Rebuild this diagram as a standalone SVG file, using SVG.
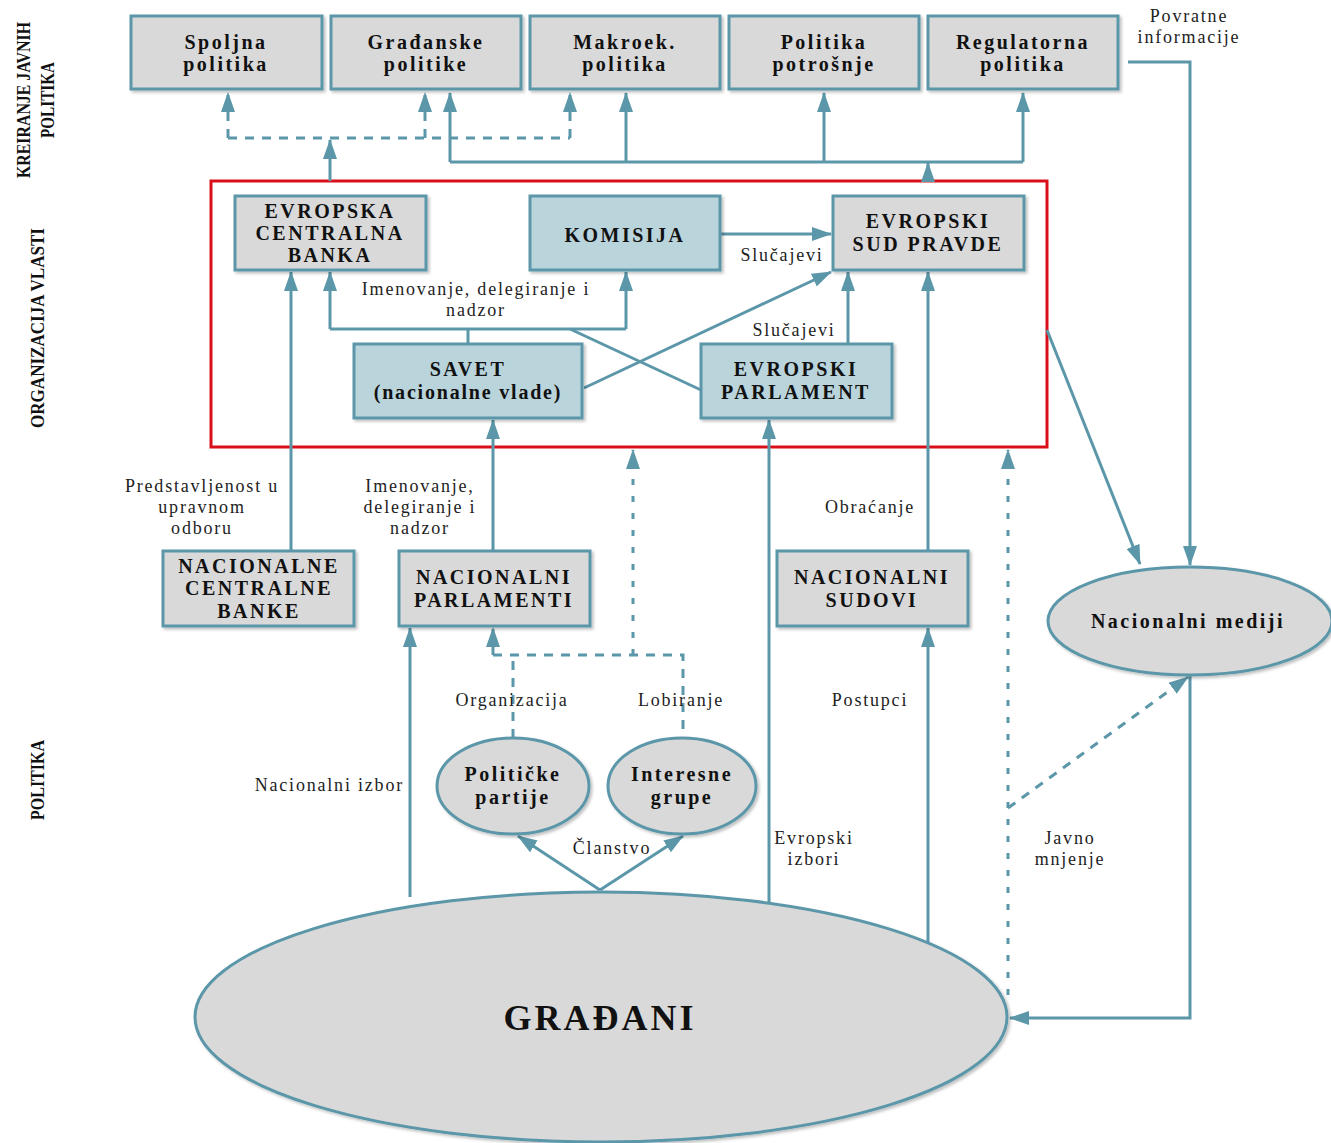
<svg xmlns="http://www.w3.org/2000/svg" width="1331" height="1143" viewBox="0 0 1331 1143">
<defs>
<marker id="ah" viewBox="0 0 20 14" refX="19" refY="7" markerWidth="20" markerHeight="14" markerUnits="userSpaceOnUse" orient="auto">
<path d="M0,0 L20,7 L0,14 z" fill="#5b97a9"/>
</marker>
<filter id="sh" x="-10%" y="-10%" width="125%" height="130%">
<feDropShadow dx="2" dy="2" stdDeviation="1.5" flood-color="#000" flood-opacity="0.25"/>
</filter>
</defs>
<style>
.box{fill:#d9d9d9;stroke:#5b97a9;stroke-width:3;filter:url(#sh)}
.blue{fill:#bad4dc}
.nt{font-family:"Liberation Serif","Times New Roman",serif;font-weight:bold;font-size:20px;letter-spacing:2.5px;text-anchor:middle;fill:#111}
.lb{font-family:"Liberation Serif","Times New Roman",serif;font-size:18px;letter-spacing:1.8px;text-anchor:middle;fill:#222}
.side{font-family:"Liberation Serif","Times New Roman",serif;font-weight:bold;font-size:18px;text-anchor:middle;fill:#111}
.c{fill:none;stroke:#5b97a9;stroke-width:3}
.a{marker-end:url(#ah)}
.d{stroke-dasharray:9 8}
.dt{stroke-dasharray:6 11}
</style>

<g id="side-labels">
<text class="side" transform="translate(30,100) rotate(-90)" textLength="156" lengthAdjust="spacingAndGlyphs">KREIRANJE JAVNIH</text>
<text class="side" transform="translate(54,100) rotate(-90)" textLength="76" lengthAdjust="spacingAndGlyphs">POLITIKA</text>
<text class="side" transform="translate(44,328) rotate(-90)" textLength="200" lengthAdjust="spacingAndGlyphs">ORGANIZACIJA VLASTI</text>
<text class="side" transform="translate(44,780) rotate(-90)" textLength="80" lengthAdjust="spacingAndGlyphs">POLITIKA</text>
</g>

<rect id="eu-frame" x="211" y="181" width="836" height="266" fill="none" stroke="#d9101a" stroke-width="3"/>

<g id="connectors">
<path class="c d" d="M228,138 H570"/>
<path class="c d a" d="M228,138 V93"/>
<path class="c d a" d="M425,138 V93"/>
<path class="c d a" d="M570,138 V93"/>
<path class="c a" d="M330,181 V140"/>
<path class="c" d="M450,162 H1023"/>
<path class="c a" d="M450,162 V93"/>
<path class="c a" d="M626,162 V93"/>
<path class="c a" d="M824,162 V93"/>
<path class="c a" d="M1023,162 V93"/>
<path class="c a" d="M928,181 V163"/>
<path class="c a" d="M1128,62 H1190 V565"/>
<path class="c a" d="M1190,675 V1018 H1010"/>
<path class="c a" d="M1047,330 L1140,564"/>
<path class="c d a" d="M1008,808 L1188,677"/>
<path class="c dt a" d="M1008,995 V450"/>
<path class="c dt a" d="M633,655 V450"/>
<path class="c a" d="M720,234 H831"/>
<path class="c" d="M468,344 V329"/>
<path class="c" d="M330,329 H626"/>
<path class="c a" d="M330,329 V272"/>
<path class="c a" d="M626,329 V272"/>
<path class="c" d="M570,329 L701,390"/>
<path class="c a" d="M584,388 L831,272"/>
<path class="c a" d="M848,344 V272"/>
<path class="c a" d="M928,551 V272"/>
<path class="c a" d="M291,551 V272"/>
<path class="c a" d="M493,551 V420"/>
<path class="c a" d="M769,910 V420"/>
<path class="c d" d="M513,738 V655"/>
<path class="c d" d="M493,655 H683 V738"/>
<path class="c d a" d="M493,655 V628"/>
<path class="c a" d="M410,897 V628"/>
<path class="c a" d="M600,890 L518,836"/>
<path class="c a" d="M600,890 L683,836"/>
<path class="c a" d="M928,950 V628"/>
</g>

<g id="labels">
<text class="lb" x="1189" y="22">Povratne</text>
<text class="lb" x="1189" y="43">informacije</text>
<text class="lb" x="476" y="295">Imenovanje, delegiranje i</text>
<text class="lb" x="476" y="316">nadzor</text>
<text class="lb" x="782" y="261">Slučajevi</text>
<text class="lb" x="794" y="336">Slučajevi</text>
<text class="lb" x="202" y="492">Predstavljenost u</text>
<text class="lb" x="202" y="513">upravnom</text>
<text class="lb" x="202" y="534">odboru</text>
<text class="lb" x="420" y="492">Imenovanje,</text>
<text class="lb" x="420" y="513">delegiranje i</text>
<text class="lb" x="420" y="534">nadzor</text>
<text class="lb" x="870" y="513">Obraćanje</text>
<text class="lb" x="512" y="706">Organizacija</text>
<text class="lb" x="681" y="706">Lobiranje</text>
<text class="lb" x="870" y="706">Postupci</text>
<text class="lb" x="404" y="791" style="text-anchor:end">Nacionalni izbor</text>
<text class="lb" x="612" y="854">Članstvo</text>
<text class="lb" x="814" y="844">Evropski</text>
<text class="lb" x="814" y="865">izbori</text>
<text class="lb" x="1070" y="844">Javno</text>
<text class="lb" x="1070" y="865">mnjenje</text>
</g>

<g id="spoljna"><rect class="box" x="131" y="16" width="191" height="73"/><text class="nt" x="226" y="49">Spoljna</text><text class="nt" x="226" y="71">politika</text></g>
<g id="gradjanske"><rect class="box" x="331" y="16" width="190" height="73"/><text class="nt" x="426" y="49">Građanske</text><text class="nt" x="426" y="71">politike</text></g>
<g id="makroek"><rect class="box" x="530" y="16" width="190" height="73"/><text class="nt" x="625" y="49">Makroek.</text><text class="nt" x="625" y="71">politika</text></g>
<g id="potrosnje"><rect class="box" x="729" y="16" width="190" height="73"/><text class="nt" x="824" y="49">Politika</text><text class="nt" x="824" y="71">potrošnje</text></g>
<g id="regulatorna"><rect class="box" x="928" y="16" width="190" height="73"/><text class="nt" x="1023" y="49">Regulatorna</text><text class="nt" x="1023" y="71">politika</text></g>

<g id="ecb"><rect class="box" x="235" y="196" width="191" height="74"/><text class="nt" x="330" y="218">EVROPSKA</text><text class="nt" x="330" y="240">CENTRALNA</text><text class="nt" x="330" y="262">BANKA</text></g>
<g id="komisija"><rect class="box blue" x="530" y="196" width="190" height="74"/><text class="nt" x="625" y="242">KOMISIJA</text></g>
<g id="sud"><rect class="box" x="833" y="196" width="191" height="74"/><text class="nt" x="928" y="228">EVROPSKI</text><text class="nt" x="928" y="251">SUD PRAVDE</text></g>
<g id="savet"><rect class="box blue" x="354" y="344" width="228" height="74"/><text class="nt" x="468" y="376">SAVET</text><text class="nt" x="468" y="399" style="letter-spacing:1.8px">(nacionalne vlade)</text></g>
<g id="parlament"><rect class="box blue" x="701" y="344" width="191" height="74"/><text class="nt" x="796" y="376">EVROPSKI</text><text class="nt" x="796" y="399">PARLAMENT</text></g>

<g id="ncb"><rect class="box" x="163" y="551" width="191" height="75"/><text class="nt" x="259" y="573">NACIONALNE</text><text class="nt" x="259" y="595">CENTRALNE</text><text class="nt" x="259" y="618">BANKE</text></g>
<g id="np"><rect class="box" x="399" y="551" width="191" height="75"/><text class="nt" x="494" y="584">NACIONALNI</text><text class="nt" x="494" y="607">PARLAMENTI</text></g>
<g id="ns"><rect class="box" x="777" y="551" width="191" height="75"/><text class="nt" x="872" y="584">NACIONALNI</text><text class="nt" x="872" y="607">SUDOVI</text></g>
<g id="mediji"><ellipse class="box" cx="1190" cy="621" rx="142" ry="54"/><text class="nt" x="1188" y="628">Nacionalni mediji</text></g>
<g id="partije"><ellipse class="box" cx="513" cy="786" rx="76" ry="48"/><text class="nt" x="513" y="781">Političke</text><text class="nt" x="513" y="804">partije</text></g>
<g id="interesne"><ellipse class="box" cx="682" cy="786" rx="74" ry="48"/><text class="nt" x="682" y="781">Interesne</text><text class="nt" x="682" y="804">grupe</text></g>
<g id="gradjani"><ellipse class="box" cx="601" cy="1017" rx="406" ry="125"/><text class="nt" x="600" y="1030" style="font-size:36px;letter-spacing:3px">GRAĐANI</text></g>
</svg>
